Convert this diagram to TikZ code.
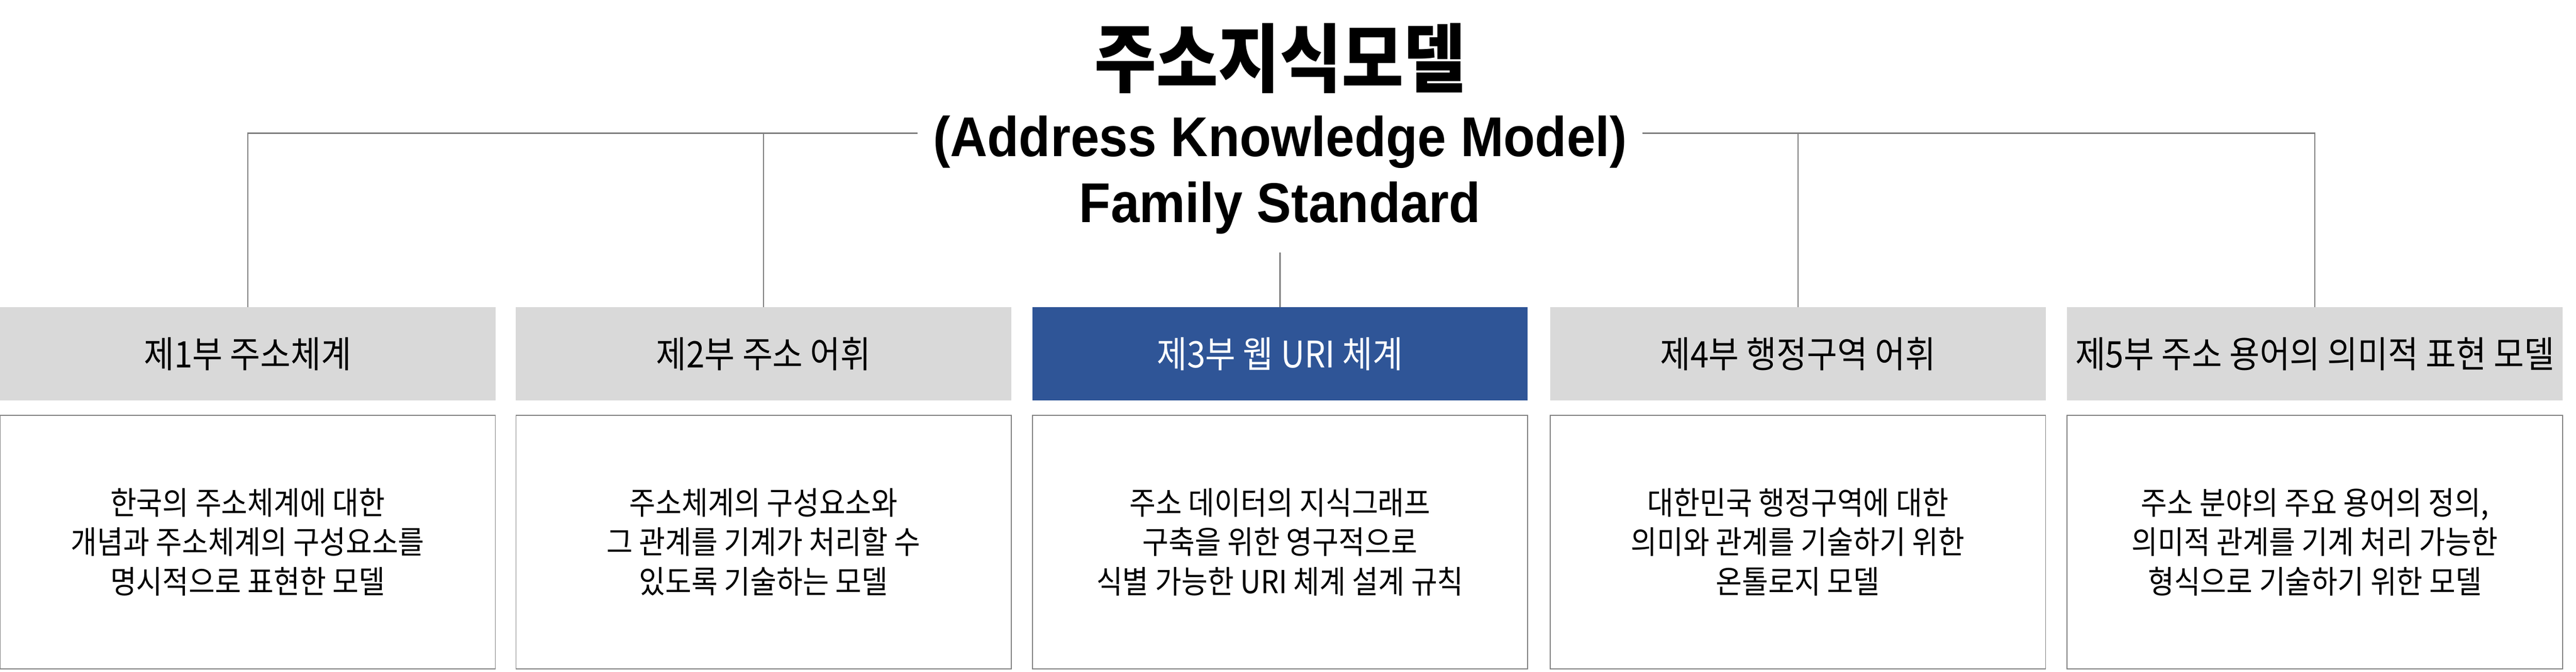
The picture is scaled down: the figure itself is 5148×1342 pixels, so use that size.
\documentclass[tikz,border=0pt]{standalone}
\usepackage{fontspec}
\setmainfont{Noto Sans CJK KR}[FakeStretch=0.9]
\newfontfamily\latinfont{Liberation Sans}[FakeStretch=0.92]
\definecolor{partblue}{HTML}{2F5597}
\definecolor{partgray}{HTML}{D9D9D9}
\definecolor{linegray}{HTML}{7F7F7F}

\begin{document}
\begin{tikzpicture}[x=0.1mm, y=-0.1mm]
\tikzstyle{part} = [rectangle, fill=partgray, align=center, minimum width=99mm, minimum height=18.6mm, inner sep=0pt, font=\fontsize{20.8}{25}\selectfont]
\tikzstyle{partsel} = [part, fill=partblue, text=white]
\tikzstyle{desc} = [rectangle, draw=linegray, line width=0.5pt, align=center, minimum width=99mm, minimum height=50.7mm, font=\fontsize{18}{22.5}\selectfont]
\tikzstyle{link} = [draw=linegray, line width=0.7pt]
\useasboundingbox (0,0) rectangle (5148,1342);
\node[font=\bfseries\fontsize{42.5}{48}\selectfont] (title) at (2558,117) {주소지식모델};
\node[anchor=base, inner xsep=3mm, font=\latinfont\bfseries\fontsize{31.9}{38}\selectfont] (tsub) at (2558,312) {(Address Knowledge Model)};
\node[anchor=base, inner ysep=3.7mm, font=\latinfont\bfseries\fontsize{31.9}{38}\selectfont] (tfam) at (2558,444) {Family Standard};
\node[part] (h1) at (495,707) {제1부 주소체계};
\node[part] (h2) at (1526,707) {제2부 주소 어휘};
\node[partsel] (h3) at (2558,707) {제3부 웹 URI 체계};
\node[part] (h4) at (3593,707) {제4부 행정구역 어휘};
\node[part] (h5) at (4626,707) {제5부 주소 용어의 의미적 표현 모델};
\node[desc] (d1) at (495,1083) {한국의 주소체계에 대한\\개념과 주소체계의 구성요소를\\명시적으로 표현한 모델};
\node[desc] (d2) at (1526,1083) {주소체계의 구성요소와\\그 관계를 기계가 처리할 수\\있도록 기술하는 모델};
\node[desc] (d3) at (2558,1083) {주소 데이터의 지식그래프\\구축을 위한 영구적으로\\식별 가능한 URI 체계 설계 규칙};
\node[desc] (d4) at (3593,1083) {대한민국 행정구역에 대한\\의미와 관계를 기술하기 위한\\온톨로지 모델};
\node[desc] (d5) at (4626,1083) {주소 분야의 주요 용어의 정의,\\의미적 관계를 기계 처리 가능한\\형식으로 기술하기 위한 모델};
\draw[link] ([yshift=1.7mm]tsub.west) -| (h1.north);
\draw[link] ([yshift=1.7mm]tsub.west) -| (h2.north);
\draw[link] (tfam.south) -- (h3.north);
\draw[link] ([yshift=1.7mm]tsub.east) -| (h4.north);
\draw[link] ([yshift=1.7mm]tsub.east) -| (h5.north);
\end{tikzpicture}
\end{document}
